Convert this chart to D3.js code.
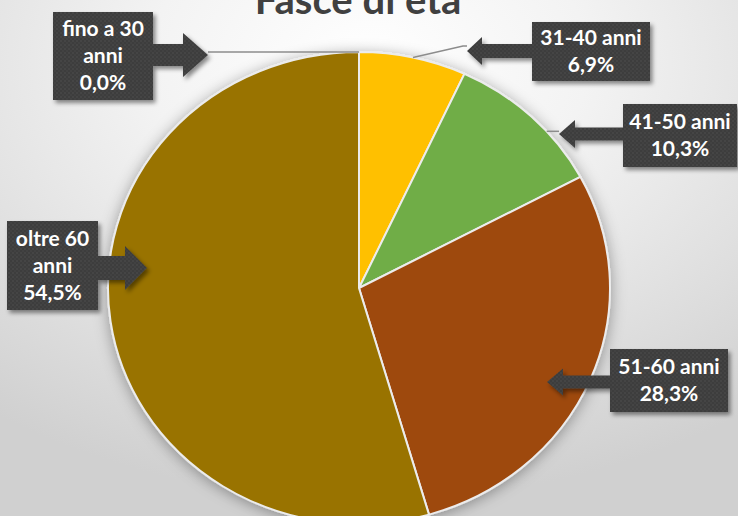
<!DOCTYPE html>
<html><head><meta charset="utf-8">
<script src="https://cdn.jsdelivr.net/npm/d3@7"></script>
<style>html,body{margin:0;padding:0;overflow:hidden;background:#fff}</style>
</head><body>
<script>
// ---- data ----
const title = "Fasce di età";
const categories = ["fino a 30 anni", "31-40 anni", "41-50 anni", "51-60 anni", "oltre 60 anni"];
const values = [0.0, 6.9, 10.3, 28.3, 54.5];
const labelLines = [["fino a 30", "anni"], ["31-40 anni"], ["41-50 anni"], ["51-60 anni"], ["oltre 60", "anni"]];
const palette = ["#4472C4", "#FFC000", "#70AD47", "#9E480E", "#997300"];

// ---- layout (callout boxes) ----
const callouts = [
  {box: [53, 12, 100, 88], side: "right", ay: 55, baseX: 183, tipX: 208, shaftH: 22, headH: 44, leader: "mid"},
  {box: [532, 22, 118, 59], side: "left", ay: 51, baseX: 482, tipX: 467, shaftH: 14, headH: 28, leader: "mid"},
  {box: [623, 104, 114, 63], side: "left", ay: 134, baseX: 575, tipX: 559, shaftH: 13, headH: 28, leader: "edge", leaderAngle: 48.4},
  {box: [610, 349, 118, 63], side: "left", ay: 382, baseX: 563, tipX: 547, shaftH: 13, headH: 27, leader: null},
  {box: [7, 221, 91, 89], side: "right", ay: 268, baseX: 125, tipX: 147, shaftH: 24, headH: 44, leader: null}
];

const W = 738, H = 516;
const cx = 359, cy = 288, rx = 251, ry = 236;
const lineH = 27;

const locale = d3.formatLocale({decimal: ",", thousands: ".", grouping: [3], currency: ["€", ""]});
const fmt = locale.format(".1f");

const svg = d3.select("body").append("svg").attr("width", W).attr("height", H);
const defs = svg.append("defs");

const bg = defs.append("radialGradient").attr("id", "bg")
  .attr("cx", "50%").attr("cy", "12%").attr("r", "85%").attr("fx", "50%").attr("fy", "12%");
bg.append("stop").attr("offset", "0%").attr("stop-color", "#ffffff");
bg.append("stop").attr("offset", "35%").attr("stop-color", "#f3f3f3");
bg.append("stop").attr("offset", "100%").attr("stop-color", "#d0d0d0");

const pieShadow = defs.append("filter").attr("id", "pieShadow")
  .attr("x", "-20%").attr("y", "-20%").attr("width", "140%").attr("height", "140%");
pieShadow.append("feDropShadow").attr("dx", 0).attr("dy", 2).attr("stdDeviation", 7)
  .attr("flood-color", "#000").attr("flood-opacity", 0.35);

const boxShadow = defs.append("filter").attr("id", "boxShadow")
  .attr("x", "-20%").attr("y", "-20%").attr("width", "140%").attr("height", "140%");
boxShadow.append("feDropShadow").attr("dx", 2.5).attr("dy", 3).attr("stdDeviation", 2)
  .attr("flood-color", "#000").attr("flood-opacity", 0.45);

const pat = defs.append("pattern").attr("id", "dots").attr("patternUnits", "userSpaceOnUse")
  .attr("width", 4).attr("height", 4);
pat.append("rect").attr("width", 4).attr("height", 4).attr("fill", "#3d3d3d");
pat.append("circle").attr("cx", 1).attr("cy", 1).attr("r", 0.7).attr("fill", "#525252");
pat.append("circle").attr("cx", 3).attr("cy", 3).attr("r", 0.7).attr("fill", "#4a4a4a");

svg.append("rect").attr("width", W).attr("height", H).attr("fill", "url(#bg)");

// title
svg.append("text").attr("x", 358).attr("y", 14).attr("text-anchor", "middle")
  .attr("font-family", "Lato, 'Open Sans', sans-serif").attr("font-weight", 700)
  .attr("font-size", 40).attr("fill", "#404040").text(title);

// pie
const pie = d3.pie().sort(null).value(d => d)(values);
const arc = d3.arc().innerRadius(0).outerRadius(ry);
const pg = svg.append("g").attr("transform", `translate(${cx},${cy}) scale(${rx / ry},1)`)
  .attr("filter", "url(#pieShadow)");
pg.selectAll("path").data(pie).join("path")
  .attr("d", arc)
  .attr("fill", (d, i) => palette[i])
  .attr("stroke", "#ececec").attr("stroke-width", 2)
  .attr("vector-effect", "non-scaling-stroke");

function edgePoint(angDeg) {
  const a = angDeg * Math.PI / 180;
  return [cx + rx * Math.sin(a), cy - ry * Math.cos(a)];
}

// leaders
callouts.forEach((c, i) => {
  if (!c.leader) return;
  const p = pie[i];
  const ang = c.leader === "mid" ? ((p.startAngle + p.endAngle) / 2) * 180 / Math.PI : c.leaderAngle;
  const e = edgePoint(ang);
  let pts;
  if (c.leader === "mid" && i === 1) {
    pts = [e, [c.tipX - 4, c.ay - 5], [c.tipX, c.ay - 5]];
  } else if (i === 0) {
    pts = [[c.tipX, e[1]], e];
  } else {
    pts = [e, [c.tipX, e[1]]];
  }
  svg.append("path").attr("d", d3.line()(pts)).attr("fill", "none")
    .attr("stroke", "#8c8c8c").attr("stroke-width", 1.5);
});

// callouts
callouts.forEach((c, i) => {
  const [x, y, w, h] = c.box;
  const sh = c.shaftH / 2, hh = c.headH / 2, ay = c.ay;
  let d;
  if (c.side === "right") {
    const x1 = x + w;
    d = `M${x},${y}H${x1}V${ay - sh}H${c.baseX}V${ay - hh}L${c.tipX},${ay}L${c.baseX},${ay + hh}V${ay + sh}H${x1}V${y + h}H${x}Z`;
  } else {
    d = `M${x},${y}H${x + w}V${y + h}H${x}V${ay + sh}H${c.baseX}V${ay + hh}L${c.tipX},${ay}L${c.baseX},${ay - hh}V${ay - sh}H${x}Z`;
  }
  svg.append("path").attr("d", d).attr("fill", "url(#dots)").attr("filter", "url(#boxShadow)");
  const lines = labelLines[i].concat([fmt(values[i]) + "%"]);
  const n = lines.length;
  const mx = x + w / 2, my = y + h / 2;
  const t = svg.append("text").attr("text-anchor", "middle")
    .attr("font-family", "Lato, 'Open Sans', sans-serif").attr("font-weight", 700)
    .attr("font-size", 21).attr("fill", "#ffffff");
  lines.forEach((s, k) => {
    t.append("tspan").attr("x", mx).attr("y", my + (k - (n - 1) / 2) * lineH + 7).text(s);
  });
});
</script>
</body></html>
